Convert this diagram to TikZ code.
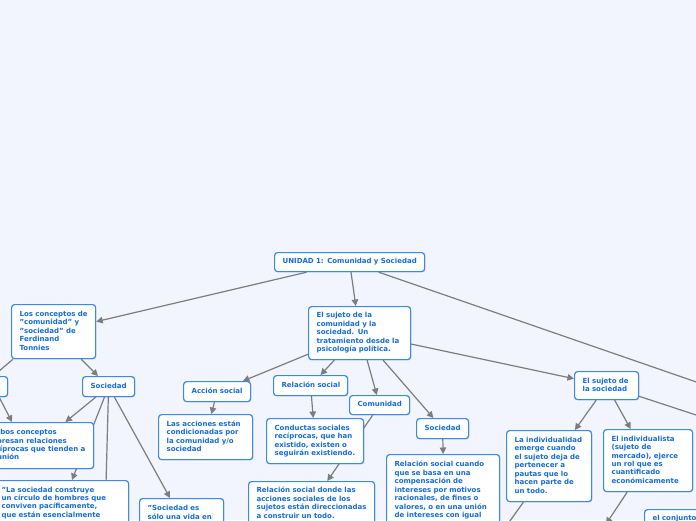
\documentclass[tikz,border=0pt]{standalone}
\usepackage{fontspec}
\setmainfont{DejaVu Sans}
\usetikzlibrary{arrows.meta,calc,shadows}
\definecolor{bgc}{RGB}{242,245,254}
\definecolor{boxb}{RGB}{58,138,228}
\definecolor{txtb}{RGB}{22,108,214}
\definecolor{edgec}{RGB}{125,125,125}
\newcommand\ml[1]{\mbox{\strut #1}}
\pgfdeclarelayer{bglayer}
\pgfdeclarelayer{edgelayer}
\pgfsetlayers{bglayer,edgelayer,main}
\tikzset{
  mbox/.style={draw=boxb, line width=1.2pt, fill=white, rounded corners=3pt,
    anchor=north west, inner xsep=8pt, inner ysep=0pt, align=left,
    font=\fontsize{7}{8.45}\selectfont\bfseries, text=txtb,
    drop shadow={shadow xshift=0.7pt, shadow yshift=-0.8pt, fill=black, opacity=0.15}},
  cbox/.style={mbox, align=center},
  conn/.style={draw=edgec, line width=1.2pt, -{Triangle[length=6.5pt,width=6.5pt]}},
  connp/.style={draw=edgec, line width=1.2pt},
}
\begin{document}
\begin{tikzpicture}[x=1pt,y=-1pt]
\useasboundingbox (0,0) rectangle (696,520);
\begin{pgfonlayer}{bglayer}
  \fill[bgc] (0,0) rectangle (696,520);
\end{pgfonlayer}
\clip (0,0) rectangle (696,520);

% nodes
\node[cbox, minimum width=150pt, minimum height=19pt, text width=134pt] (root) at (274,252) {\ml{UNIDAD 1: Comunidad y Sociedad}};
\node[mbox, minimum width=84pt, minimum height=54pt, text width=68pt] (A) at (11,304)
  {\ml{Los conceptos de}\\\ml{"comunidad" y}\\\ml{"sociedad" de}\\\ml{Ferdinand}\\\ml{Tonnies}};
\node[mbox, minimum width=102pt, minimum height=53pt, text width=86pt] (B) at (308,306)
  {\ml{El sujeto de la}\\\ml{comunidad y la}\\\ml{sociedad. Un}\\\ml{tratamiento desde la}\\\ml{psicología política.}};
\node[mbox, minimum width=64pt, minimum height=28pt, text width=48pt] (C) at (574,371)
  {\ml{El sujeto de}\\\ml{la sociedad}};
\node[cbox, minimum width=52pt, minimum height=20pt, text width=36pt] (D) at (82,376) {\ml{Sociedad}};
\node[cbox, minimum width=58pt, minimum height=20pt, text width=42pt] (E) at (-51,376) {};
\node[mbox, minimum width=114pt, minimum height=46pt, text width=98pt] (F) at (-21,422)
  {\ml{Ambos conceptos}\\\ml{expresan relaciones}\\\ml{recíprocas que tienden a}\\\ml{la unión}};
\node[mbox, inner ysep=5.5pt, minimum width=135pt, text width=119pt] (G) at (-7,480)
  {\ml{"La sociedad construye}\\\ml{un círculo de hombres que}\\\ml{conviven pacíficamente,}\\\ml{que están esencialmente}\\\ml{}\\\ml{}};
\node[mbox, inner ysep=6.3pt, minimum width=84pt, text width=68pt] (H) at (139,498)
  {\ml{"Sociedad es}\\\ml{sólo una vida en}\\\ml{}\\\ml{}};
\node[cbox, minimum width=67pt, minimum height=20pt, text width=51pt] (I) at (183,381) {\ml{Acción social}};
\node[mbox, minimum width=94pt, minimum height=45pt, text width=78pt] (J) at (158,414)
  {\ml{Las acciones están}\\\ml{condicionadas por}\\\ml{la comunidad y/o}\\\ml{sociedad}};
\node[cbox, minimum width=74pt, minimum height=20pt, text width=58pt] (K) at (273,375) {\ml{Relación social}};
\node[mbox, minimum width=97pt, minimum height=45pt, text width=81pt] (L) at (266,418)
  {\ml{Conductas sociales}\\\ml{recíprocas, que han}\\\ml{existido, existen o}\\\ml{seguirán existiendo.}};
\node[cbox, minimum width=60pt, minimum height=19pt, text width=44pt] (M) at (349,395) {\ml{Comunidad}};
\node[mbox, inner ysep=5.3pt, minimum width=126pt, text width=110pt] (N) at (248,481)
  {\ml{Relación social donde las}\\\ml{acciones sociales de los}\\\ml{sujetos están direccionadas}\\\ml{a construir un todo.}};
\node[cbox, minimum width=52pt, minimum height=20pt, text width=36pt] (O) at (416,418) {\ml{Sociedad}};
\node[mbox, inner ysep=6.3pt, minimum width=113pt, text width=97pt] (P) at (386,454)
  {\ml{Relación social cuando}\\\ml{que se basa en una}\\\ml{compensación de}\\\ml{intereses por motivos}\\\ml{racionales, de fines o}\\\ml{valores, o en una unión}\\\ml{de intereses con igual}\\\ml{}\\\ml{}};
\node[mbox, minimum width=85pt, minimum height=71pt, text width=69pt] (Q) at (506,430)
  {\ml{La individualidad}\\\ml{emerge cuando}\\\ml{el sujeto deja de}\\\ml{pertenecer a}\\\ml{pautas que lo}\\\ml{hacen parte de}\\\ml{un todo.}};
\node[mbox, minimum width=89pt, minimum height=62pt, text width=73pt] (R) at (603,429)
  {\ml{El individualista}\\\ml{(sujeto de}\\\ml{mercado), ejerce}\\\ml{un rol que es}\\\ml{cuantificado}\\\ml{económicamente}};
\node[mbox, inner ysep=5pt, minimum width=90pt, text width=74pt] (S) at (644,509)
  {\ml{el conjunto}\\\ml{}\\\ml{}};

\coordinate (offR1) at (760,404);
\coordinate (offR2) at (760,436);
\coordinate (offD) at (104,560);
\coordinate (offQ) at (482,560);
\coordinate (offR3) at (606,524);

% connectors
\begin{pgfonlayer}{edgelayer}
\begin{scope}
\clip (0,0) rectangle (696,520);
\draw[conn] (root) -- (A);
\draw[conn] (root) -- (B);
\draw[connp] (root) -- (offR1);
\draw[conn] (B) -- (C);
\draw[connp] (C) -- (offR2);
\draw[conn] (A) -- (D);
\draw[conn] ($(A.south west)+(2,0)$) -- ($(E.north east)+(-15,0)$);
\draw[conn] ($(E.south east)+(-9,0)$) -- ($(F.north west)+(33,0)$);
\draw[conn] (D) -- (F);
\draw[conn] (D) -- ($(G.north west)+(79,0)$);
\draw[connp] (D) -- (offD);
\draw[conn] (D) -- ($(H.north west)+(31,0)$);
\draw[conn] (B) -- (I);
\draw[conn] (I) -- (J);
\draw[conn] (B) -- (K);
\draw[conn] (K) -- (L);
\draw[conn] (B) -- (M);
\draw[conn] (M) -- (N);
\draw[conn] (B) -- (O);
\draw[conn] (O) -- (P.north);
\draw[conn] (C) -- (Q);
\draw[conn] (C) -- (R);
\draw[connp] (Q) -- (offQ);
\draw[conn] (R) -- (offR3);
\end{scope}
\end{pgfonlayer}
\end{tikzpicture}
\end{document}
